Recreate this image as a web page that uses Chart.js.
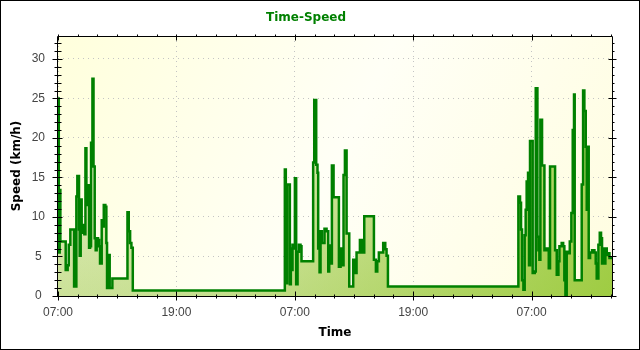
<!DOCTYPE html>
<html>
<head>
<meta charset="utf-8">
<title>Time-Speed</title>
<script src="https://cdn.jsdelivr.net/npm/chart.js@4.4.1/dist/chart.umd.min.js"></script>
<style>
  html, body { margin: 0; padding: 0; background: #fff; }
  canvas { display: block; }
</style>
</head>
<body>
<canvas id="speedChart" width="640" height="350"></canvas>
<script>
// time is in hours counted from 07:00 on the first day
const day1Hours = [0, 0.08, 0.17, 0.24, 0.78, 0.98, 1.09, 1.25, 1.63, 1.86, 1.96, 2.13, 2.20, 2.30, 2.40, 2.47,
    2.57, 2.67, 2.78, 2.88, 2.98, 3.08, 3.15, 3.25, 3.35, 3.45, 3.49, 3.60, 3.72, 3.82, 3.92, 4.06,
    4.16, 4.26, 4.43, 4.53, 4.64, 4.80, 4.90, 4.97, 5.07, 5.24, 5.51, 7.04, 7.17, 7.31, 7.44, 7.58];
const day1Speed = [25.0, 5.5, 13.4, 6.9, 3.3, 3.9, 6.5, 8.4, 1.2, 12.6, 15.2, 8.4, 5.1, 12.2, 8.0, 9.0,
    8.4, 7.8, 18.7, 14.0, 11.5, 14.0, 6.1, 6.3, 19.4, 16.4, 27.5, 16.4, 7.3, 5.8, 7.3, 7.1,
    6.3, 4.1, 9.6, 8.8, 11.5, 11.3, 6.7, 1.0, 5.2, 1.0, 2.2, 10.6, 8.2, 6.7, 6.1, 0.7];

const day2Hours = [22.99, 23.09, 23.23, 23.50, 23.60, 23.70, 23.77, 23.90, 24.01, 24.14, 24.28, 24.42, 24.58,
    24.68, 25.86, 25.97, 26.17, 26.30, 26.37, 26.51, 26.61, 26.74, 27.01, 27.22, 27.39, 27.49, 27.62,
    27.76, 27.93, 28.47, 28.64, 28.77, 28.94, 29.08, 29.25, 29.52, 29.92, 30.09, 30.26, 30.60, 30.80,
    31.04, 32.02, 32.22, 32.36, 32.52, 32.96, 33.17, 33.30, 33.44];
const day2Speed = [16.0, 1.6, 14.1, 1.5, 6.0, 3.3, 6.5, 6.0, 14.9, 1.5, 5.6, 6.5, 6.3,
    4.4, 16.9, 24.8, 16.6, 15.6, 6.0, 3.0, 8.2, 6.7, 8.5, 8.2, 3.1, 6.4, 4.1,
    16.5, 12.5, 3.7, 6.0, 3.9, 15.3, 18.4, 7.9, 1.2, 4.6, 2.9, 5.5, 7.1, 5.5,
    10.1, 4.6, 3.1, 4.4, 5.5, 6.7, 5.9, 5.1, 1.2];

const day3Hours = [46.66, 46.83, 46.93, 47.03, 47.17, 47.30, 47.40, 47.50, 47.64, 47.74, 47.84, 48.11, 48.32,
    48.42, 48.59, 48.69, 48.79, 48.89, 49.06, 49.30, 49.55, 49.74, 49.87, 50.38, 50.55, 50.72, 50.82,
    51.05, 51.20, 51.32, 51.43, 51.56, 51.73, 51.87, 52.03, 52.17, 52.30, 52.37, 53.08, 53.22, 53.35,
    53.49, 53.59, 53.69, 53.79, 53.93, 54.13, 54.37, 54.50, 54.60, 54.77, 54.91, 55.04, 55.14, 55.28,
    55.38, 55.48, 55.62, 55.79, 55.89, 56.15];
const day3Speed = [12.6, 11.8, 8.4, 2.0, 0.8, 7.7, 10.9, 14.5, 15.6, 3.9, 19.6, 2.9, 3.1,
    26.3, 7.5, 5.8, 4.6, 22.3, 16.5, 5.8, 6.0, 3.5, 16.4, 5.8, 2.7, 4.4, 6.3,
    6.7, 6.3, 2.0, 0.1, 5.6, 5.4, 6.9, 10.5, 21.0, 25.5, 2.0, 14.1, 26.0, 23.4,
    18.9, 10.9, 18.9, 4.8, 5.5, 5.8, 5.5, 4.1, 2.2, 6.5, 8.0, 7.3, 4.1, 6.0,
    4.1, 6.0, 5.2, 5.4, 4.8, 5.0];

const xTickHours = [0, 12, 24, 36, 48];
const xTickLabels = ['07:00', '19:00', '07:00', '19:00', '07:00'];
const yTickValues = [0, 5, 10, 15, 20, 25, 30];
const xMax = 56.15;
const yMax = 32.9;

const hours = day1Hours.concat(day2Hours, day3Hours);
const speed = day1Speed.concat(day2Speed, day3Speed);
const points = hours.map((h, i) => ({ x: h, y: speed[i] }));

// area fill: pale at the top, stronger yellow-green towards the bottom right
let fillPattern = null;
function areaFill(context) {
    const chart = context.chart;
    const a = chart.chartArea;
    if (!a) return 'rgba(0,0,0,0)';
    if (fillPattern) return fillPattern;
    const c = document.createElement('canvas');
    c.width = chart.width;
    c.height = chart.height;
    const g = c.getContext('2d');
    const v = g.createLinearGradient(0, a.top, 0, a.bottom);
    v.addColorStop(0, '#f5f8dd');
    v.addColorStop(1, '#cfe3a0');
    g.fillStyle = v;
    g.fillRect(a.left, a.top, a.right - a.left, a.bottom - a.top);
    const d = g.createLinearGradient(a.left, a.top, a.right, a.bottom);
    d.addColorStop(0, 'rgba(150,200,50,0)');
    d.addColorStop(0.4, 'rgba(150,200,50,0.15)');
    d.addColorStop(1, 'rgba(150,200,50,0.85)');
    g.fillStyle = d;
    g.fillRect(a.left, a.top, a.right - a.left, a.bottom - a.top);
    fillPattern = chart.ctx.createPattern(c, 'no-repeat');
    return fillPattern;
}

// plot background, frame and tick marks
const chartFrame = {
    id: 'chartFrame',
    beforeDraw(chart) {
        const { ctx, chartArea: a, width, height } = chart;
        ctx.save();
        ctx.fillStyle = '#ffffff';
        ctx.fillRect(0, 0, width, height);
        const g = ctx.createLinearGradient(a.left, a.top, a.right, a.bottom);
        g.addColorStop(0, '#ffffdc');
        g.addColorStop(0.5, '#fffff6');
        g.addColorStop(1, '#fffde0');
        ctx.fillStyle = g;
        ctx.fillRect(a.left, a.top, a.right - a.left, a.bottom - a.top);
        ctx.restore();
    },
    afterDraw(chart) {
        const { ctx, chartArea: a, scales: { x, y } } = chart;
        const L = a.left - 0.5, R = a.right + 0.5, T = a.top + 0.5, B = a.bottom + 0.5;
        ctx.save();
        ctx.strokeStyle = '#000';
        ctx.lineWidth = 1;
        ctx.beginPath();
        ctx.rect(L, T, R - L, B - T);
        for (let v = 0; v <= Math.floor(yMax); v++) {
            const py = Math.round(y.getPixelForValue(v)) + 0.5;
            const major = v % 5 === 0;
            ctx.moveTo(L - (major ? 5 : 3), py);
            ctx.lineTo(L + (major ? 5 : 4), py);
            ctx.moveTo(R - (major ? 4 : 0), py);
            ctx.lineTo(R + (major ? 4 : 2), py);
        }
        for (let h = 0; h <= xMax; h += 2) {
            const px = Math.round(x.getPixelForValue(h)) + 0.5;
            const major = h % 12 === 0;
            ctx.moveTo(px, B - (major ? 5 : 2));
            ctx.lineTo(px, B + (major ? 4 : 2));
            ctx.moveTo(px, T - 2);
            ctx.lineTo(px, T + (major ? 4 : 0));
        }
        ctx.stroke();
        ctx.strokeRect(0.5, 0.5, chart.width - 1, chart.height - 1);
        ctx.restore();
    }
};

Chart.defaults.font.family = "'Liberation Sans', sans-serif";

const speedCtx = document.getElementById('speedChart').getContext('2d');
const speedChart = new Chart(speedCtx, {
    type: 'line',
    data: {
        datasets: [{
            label: 'Speed',
            data: points,
            stepped: true,
            borderColor: '#008000',
            borderWidth: 2.5,
            pointRadius: 0,
            fill: 'origin',
            backgroundColor: areaFill
        }]
    },
    options: {
        responsive: false,
        animation: false,
        devicePixelRatio: 1,
        layout: { padding: { top: 0, right: 28, left: 0, bottom: 0 } },
        plugins: {
            legend: { display: false },
            tooltip: { enabled: false },
            title: {
                display: true,
                text: 'Time-Speed',
                color: '#008000',
                font: { family: "'DejaVu Sans', sans-serif", size: 12, weight: 'bold' },
                padding: { top: 11, bottom: 10.6 }
            }
        },
        scales: {
            x: {
                type: 'linear',
                min: 0,
                max: xMax,
                afterFit: function (scale) { scale.height = 54; },
                afterBuildTicks: function (scale) {
                    scale.ticks = xTickHours.map(v => ({ value: v }));
                },
                ticks: {
                    padding: 9,
                    color: '#444',
                    font: { size: 12 },
                    maxRotation: 0,
                    callback: function (value, index) { return xTickLabels[index]; }
                },
                grid: { color: '#c4c4c4', lineWidth: 1, drawTicks: false },
                border: { display: false, dash: [1, 4] },
                title: {
                    display: true,
                    text: 'Time',
                    color: '#000',
                    font: { family: "'DejaVu Sans', sans-serif", size: 12, weight: 'bold' },
                    padding: { bottom: 10 }
                }
            },
            y: {
                min: 0,
                max: yMax,
                afterFit: function (scale) { scale.width = 58; },
                afterBuildTicks: function (scale) {
                    scale.ticks = yTickValues.map(v => ({ value: v }));
                },
                ticks: {
                    padding: 13,
                    crossAlign: 'center',
                    color: '#444',
                    font: { size: 12 }
                },
                grid: { color: '#c4c4c4', lineWidth: 1, drawTicks: false },
                border: { display: false, dash: [1, 4] },
                title: {
                    display: true,
                    text: 'Speed (km/h)',
                    color: '#000',
                    font: { family: "'DejaVu Sans', sans-serif", size: 12, weight: 'bold' },
                    padding: { top: 10 }
                }
            }
        }
    },
    plugins: [chartFrame]
});
</script>
</body>
</html>
